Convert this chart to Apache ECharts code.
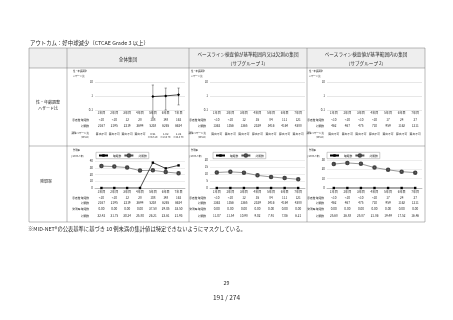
<!DOCTYPE html>
<html><head><meta charset="utf-8">
<script src="https://cdn.jsdelivr.net/npm/echarts@6/dist/echarts.min.js"></script>
<style>html,body{margin:0;padding:0;background:#fff}#c{width:453px;height:320px}</style>
</head><body><div id="c"></div>
<script>
// ---- data ----
const categories = ['1年目','2年目','3年目','4年目','5年目','6年目','7年目'];
const columnTitles = ['全体集団', 'ベースライン検査値が基準範囲内又は欠測の集団', 'ベースライン検査値が基準範囲内の集団'];
const columnSubTitles = ['', '（サブグループ 1）', '（サブグループ 2）'];
const seriesNames = ['曝露群', '対照群'];

// 全体集団
const allExposed = ['<10','<10','12','28','108','148','162'];
const allControl = ['2167','2195','2219','3694','5238','6265','6624'];
const allHR = [null,null,null,null,0.91,1.02,1.22];
const allHRLow = [null,null,null,null,0.03,0.10,0.23];
const allHRHigh = [null,null,null,null,6.10,3.70,3.70];
const allRateExposed = [0,0,0,0,37.58,29.05,33.50];
const allRateControl = [32.42,31.75,30.24,25.80,26.21,23.61,21.93];
// サブグループ 1
const sub1Exposed = ['<10','<10','12','35','84','111','121'];
const sub1Control = ['1362','1356','1365','2329','3416','4164','4388'];
const sub1HR = [null,null,null,null,null,null,null];
const sub1HRLow = [null,null,null,null,null,null,null];
const sub1HRHigh = [null,null,null,null,null,null,null];
const sub1RateExposed = [0,0,0,0,0,0,0];
const sub1RateControl = [11.07,11.54,10.98,9.02,7.91,7.06,6.21];
// サブグループ 2
const sub2Exposed = ['<10','<10','<10','<10','17','24','27'];
const sub2Control = ['462','467','475','710','959','1162','1211'];
const sub2HR = [null,null,null,null,null,null,null];
const sub2HRLow = [null,null,null,null,null,null,null];
const sub2HRHigh = [null,null,null,null,null,null,null];
const sub2RateExposed = [0,0,0,0,0,0,0];
const sub2RateControl = [25.68,26.88,25.87,21.86,19.49,17.52,16.46];
// rate axis ranges
const rateMax = [40, 20, 30];
const rateInterval = [10, 5, 10];
const hrTicks = [0.1, 1, 10];

// ---- layout ----
const FONT = '"Noto Sans CJK JP","Noto Sans",sans-serif';
const TXT = '#2a2a2a';
const LINE = '#777';
const panels = [
  {colLeft:67, colRight:189, gridLeft:95, gridW:90, labelRight:89, topLab:73, legendLeft:96, rateTop:161,
   exposed:allExposed, control:allControl, hr:allHR, lo:allHRLow, hi:allHRHigh, rExp:allRateExposed, rCtl:allRateControl},
  {colLeft:189, colRight:307, gridLeft:210, gridW:95, labelRight:206, topLab:191, legendLeft:213, rateTop:160,
   exposed:sub1Exposed, control:sub1Control, hr:sub1HR, lo:sub1HRLow, hi:sub1HRHigh, rExp:sub1RateExposed, rCtl:sub1RateControl},
  {colLeft:307, colRight:425, gridLeft:327, gridW:95, labelRight:324, topLab:309, legendLeft:327, rateTop:160,
   exposed:sub2Exposed, control:sub2Control, hr:sub2HR, lo:sub2HRLow, hi:sub2HRHigh, rExp:sub2RateExposed, rCtl:sub2RateControl}
];

const grid = [], xAxis = [], yAxis = [], series = [], legend = [], graphic = [];

function txt(text, x, y, fs, align, extra) {
  graphic.push(Object.assign({type:'text', x:x, y:y, silent:true,
    style:{text:text, fontSize:fs, fontFamily:FONT, fill:TXT, align:align||'left', verticalAlign:'middle'}}, extra||{}));
}
function ln(x1,y1,x2,y2,w,c){
  graphic.push({type:'line', silent:true, shape:{x1:x1,y1:y1,x2:x2,y2:y2}, style:{stroke:c||LINE, lineWidth:w||0.5}});
}
function addAxis(g, bottom, data, targetY, fs, opts) {
  const margin = 1;
  const a = {type:'category', gridIndex:g, data:data, position:'bottom', boundaryGap:true,
    offset: targetY - bottom - margin - fs/2,
    axisLine:{show:false}, axisTick:{show:false}, splitLine:{show:false},
    axisLabel:{interval:0, fontSize:fs, margin:margin, color:TXT, fontFamily:FONT, hideOverlap:false}};
  if (opts) { if (opts.axisLine) a.axisLine = opts.axisLine; if (opts.label) Object.assign(a.axisLabel, opts.label); }
  xAxis.push(a);
  return xAxis.length - 1;
}

panels.forEach(function(p, i){
  // ---------- row 1: hazard ratio ----------
  const g1 = grid.length;
  const b1 = 110;
  grid.push({left:p.gridLeft, top:82, width:p.gridW, height:28});
  yAxis.push({type:'log', logBase:10, gridIndex:g1, min:hrTicks[0], max:hrTicks[2],
    axisLine:{show:false}, axisTick:{show:false},
    splitLine:{show:true, lineStyle:{color:'#cfcfcf', width:0.5}},
    axisLabel:{fontSize:3, margin:2, color:TXT, fontFamily:FONT, formatter:function(v){return String(v);}}});
  const xc1 = addAxis(g1, b1, categories, 113, 3.1);
  addAxis(g1, b1, p.exposed, 120, 3.1);
  addAxis(g1, b1, p.control, 126, 3.1);
  const hrLabels = p.hr.map(function(v, k){
    return v == null ? '{a|算出不可}' : '{a|' + v.toFixed(2) + '}\n{b|(' + p.lo[k].toFixed(2) + '-' + p.hi[k].toFixed(2) + ')}';
  });
  addAxis(g1, b1, hrLabels, 133, 2.6, {label:{rich:{a:{fontSize:2.8, lineHeight:4, fontFamily:FONT, color:TXT}, b:{fontSize:2.1, lineHeight:3.2, fontFamily:FONT, color:TXT}}}});
  const hrIdx = p.hr.map(function(v,k){return v==null?null:k;}).filter(function(k){return k!=null;});
  if (hrIdx.length) {
    series.push({type:'custom', xAxisIndex:xc1, yAxisIndex:g1, silent:true, z:2,
      data: hrIdx.map(function(k){return [k, p.lo[k], p.hi[k]];}),
      renderItem:function(params, api){
        const top = api.coord([api.value(0), api.value(2)]);
        const bot = api.coord([api.value(0), api.value(1)]);
        const w = 1.1, st = {stroke:'#333', lineWidth:0.45};
        return {type:'group', children:[
          {type:'line', shape:{x1:top[0], y1:top[1], x2:bot[0], y2:bot[1]}, style:st},
          {type:'line', shape:{x1:top[0]-w, y1:top[1], x2:top[0]+w, y2:top[1]}, style:st},
          {type:'line', shape:{x1:bot[0]-w, y1:bot[1], x2:bot[0]+w, y2:bot[1]}, style:st}
        ]};
      }});
    series.push({type:'line', name:'調整ハザード比', xAxisIndex:xc1, yAxisIndex:g1, silent:true, z:3,
      data:p.hr.map(function(v){return v==null?'-':v;}),
      symbol:'diamond', symbolSize:3, itemStyle:{color:'#000'}, lineStyle:{color:'#000', width:0.7}});
  }
  // row 1 text labels
  txt('性・年齢調整', p.topLab, 71.5, 2.3);
  txt('ハザード比', p.topLab, 76.5, 2.3);
  txt('患者数 曝露群', p.labelRight, 120, 2.7, 'right');
  txt('対照群', p.labelRight, 126, 2.7, 'right');
  txt('調整ハザード比', p.labelRight, 133, 2.5, 'right');
  txt('(95%CI)', p.labelRight - 4, 137, 2.2, 'center');

  // ---------- row 2: incidence ----------
  const g2 = grid.length;
  const b2 = 188;
  grid.push({left:p.gridLeft, top:p.rateTop, width:p.gridW, height:b2 - p.rateTop});
  yAxis.push({type:'value', gridIndex:g2, min:0, max:rateMax[i], interval:rateInterval[i],
    axisLine:{show:false}, axisTick:{show:false},
    splitLine:{show:true, lineStyle:{color:'#dadada', width:0.5}},
    axisLabel:{fontSize:3, margin:2, color:TXT, fontFamily:FONT}});
  const xc2 = addAxis(g2, b2, categories, 191.5, 3.1, {axisLine:{show:true, lineStyle:{color:'#888', width:0.5}}});
  addAxis(g2, b2, p.exposed, 197.7, 3.1);
  addAxis(g2, b2, p.control, 203.3, 3.1);
  addAxis(g2, b2, p.rExp.map(function(v){return v.toFixed(2);}), 209.3, 3.1);
  addAxis(g2, b2, p.rCtl.map(function(v){return v.toFixed(2);}), 216, 3.1);
  series.push({type:'line', name:seriesNames[0], xAxisIndex:xc2, yAxisIndex:g2, silent:true, z:4,
    data:p.rExp, symbol:'rect', symbolSize:2.4, itemStyle:{color:'#000'}, lineStyle:{color:'#000', width:0.7}});
  series.push({type:'line', name:seriesNames[1], xAxisIndex:xc2, yAxisIndex:g2, silent:true, z:3,
    data:p.rCtl, symbol:'emptyCircle', symbolSize:2.5, itemStyle:{color:'#444', borderWidth:0.5}, lineStyle:{color:'#555', width:0.6}});
  legend.push({data:seriesNames, left:p.legendLeft, top:152.3, orient:'horizontal', selectedMode:false,
    itemWidth:9, itemHeight:3, itemGap:2, padding:[1,2], borderColor:'#999', borderWidth:0.5,
    textStyle:{fontSize:2.8, color:TXT, fontFamily:FONT}});
  txt('発現率', p.topLab, 150, 2.3);
  txt('(/1000人年)', p.topLab - 2, 156, 2.4);
  txt('患者数 曝露群', p.labelRight, 197.7, 2.7, 'right');
  txt('対照群', p.labelRight, 203.3, 2.7, 'right');
  txt('発現率 曝露群', p.labelRight, 209.3, 2.7, 'right');
  txt('対照群', p.labelRight, 216, 2.7, 'right');

  // header texts
  const cx = (p.colLeft + p.colRight) / 2;
  if (columnSubTitles[i]) {
    txt(columnTitles[i], cx, 54.5, 4.6, 'center');
    txt(columnSubTitles[i], cx, 63, 4.6, 'center');
  } else {
    txt(columnTitles[i], cx, 59, 4.6, 'center');
  }
});

// table frame
graphic.unshift({type:'rect', silent:true, shape:{x:29, y:48, width:396, height:20}, style:{fill:'#eeeeee'}});
graphic.unshift({type:'rect', silent:true, shape:{x:29, y:48, width:38, height:20}, style:{fill:'#dcdcdc'}});
ln(29,48,425,48); ln(29,68,425,68); ln(29,146,425,146); ln(29,222,425,222);
ln(29,48,29,222); ln(67,48,67,222); ln(189,48,189,222); ln(307,48,307,222); ln(425,48,425,222);
// left labels
txt('性・年齢調整', 48, 102, 4, 'center');
txt('ハザード比', 48, 108, 4, 'center');
txt('発現率', 46, 181, 4, 'center');
// title, footnote, page
txt('アウトカム：好中球減少（CTCAE Grade 3 以上）', 30, 43, 5.4);
txt('※MID-NET®の公表基準に基づき 10 例未満の集計値は特定できないようにマスクしている。', 28, 228.5, 5.3);
txt('29', 226.5, 283, 5.2, 'center');
txt('191 / 274', 226.5, 298, 6.5, 'center');

const chart = echarts.init(document.getElementById('c'), null, {renderer:'canvas'});
chart.setOption({animation:false, backgroundColor:'#fff', grid:grid, xAxis:xAxis, yAxis:yAxis,
  series:series, legend:legend, graphic:graphic});
</script></body></html>
